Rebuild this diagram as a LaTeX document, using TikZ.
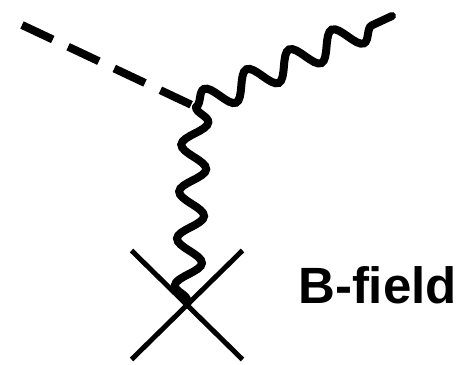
\documentclass[tikz,border=0pt]{standalone}
\usepackage{fontspec}
\setmainfont{Liberation Sans}
\usetikzlibrary{decorations.pathmorphing, shapes.misc, positioning}

\begin{document}
\begin{tikzpicture}[
  x=1pt, y=1pt,
  scalar/.style={line width=8pt, dash pattern=on 34pt off 17pt},
  photon/.style={line width=8pt, line cap=round, decorate,
                 decoration={snake, segment length=47pt, amplitude=13pt}},
  ext/.style={draw, cross out, line width=5pt, minimum width=106pt,
              minimum height=104pt, inner sep=0pt},
  lbl/.style={font=\fontsize{51}{51}\selectfont\bfseries, inner sep=0pt}
]
\useasboundingbox (0,0) rectangle (468,364);

\coordinate (hin) at (22,339);
\coordinate (vtx) at (196,257);
\coordinate (hout) at (392,348);
\node[ext] (bfield) at (187,59) {};
\node[lbl, anchor=base west] (blabel) at (298,61) {B-field};

\draw[scalar] (hin) -- (vtx);
\draw[photon] (vtx) -- (hout);
\draw[photon] (vtx) -- (bfield.center);

\end{tikzpicture}
\end{document}
